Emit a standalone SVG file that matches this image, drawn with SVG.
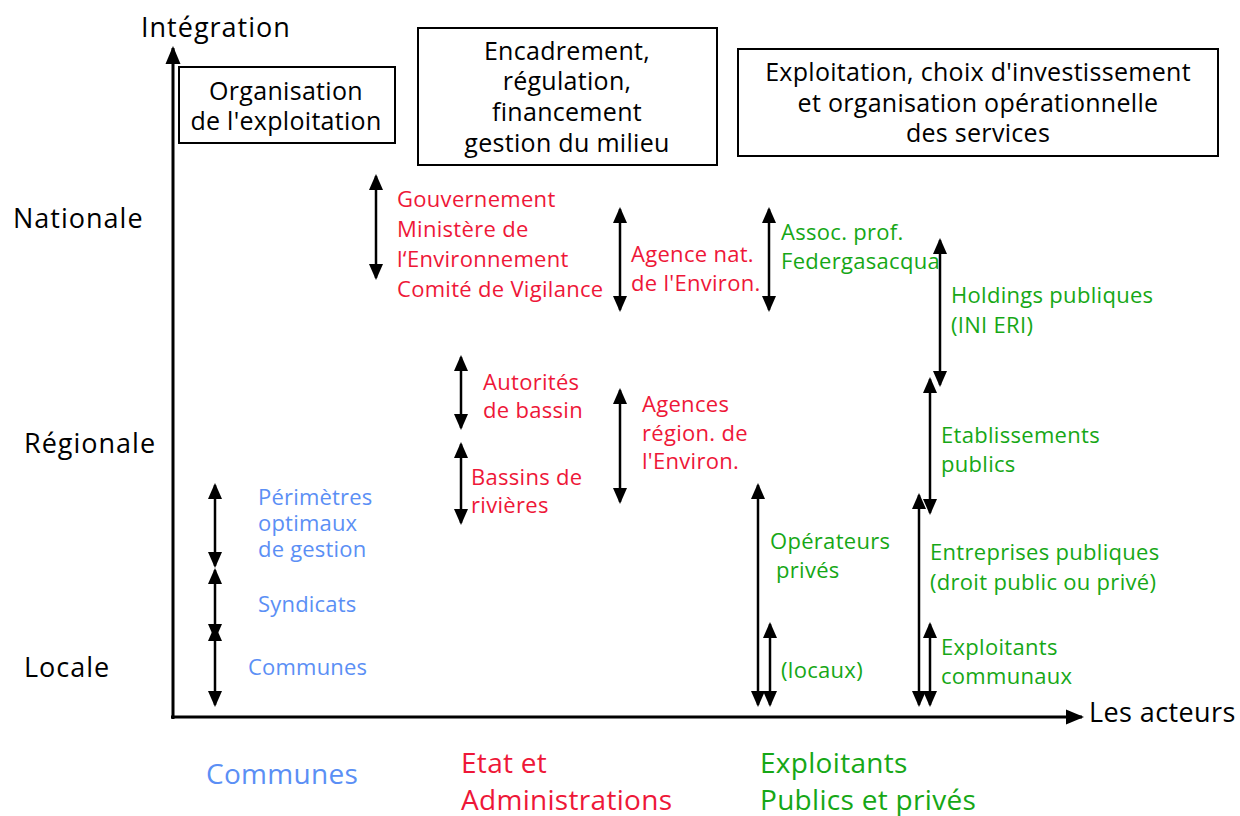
<svg xmlns="http://www.w3.org/2000/svg" width="1240" height="816" viewBox="0 0 1240 816">
  <defs>
    <marker id="head" markerUnits="userSpaceOnUse" markerWidth="18" markerHeight="16" viewBox="0 0 18 16" refX="14" refY="8" orient="auto-start-reverse">
      <path d="M0,1 L16,8 L0,15 z" fill="#000"/>
    </marker>
    <marker id="axhead" markerUnits="userSpaceOnUse" markerWidth="20" markerHeight="18" viewBox="0 0 20 18" refX="16" refY="9" orient="auto">
      <path d="M0,1.5 L18,9 L0,16.5 z" fill="#000"/>
    </marker>
  </defs>
  <style>
    text { font-family: "Open Sans", "Noto Sans", "DejaVu Sans", sans-serif; }
    .lvl { font-size: 27px; letter-spacing: 1px; fill: #000; }
    .box { fill: #fff; stroke: #000; stroke-width: 2; }
    .boxt { font-size: 25px; letter-spacing: 0.3px; fill: #000; text-anchor: middle; }
    .red { font-size: 22px; letter-spacing: 0.3px; fill: #ee1738; }
    .grn { font-size: 22px; letter-spacing: 0.3px; fill: #16a716; }
    .blu { font-size: 22px; letter-spacing: 0.2px; fill: #5b8ff5; }
    .cat { font-size: 28px; letter-spacing: 0.3px; }
    .arr { stroke: #000; stroke-width: 2.5; fill: none; marker-start: url(#head); marker-end: url(#head); }
    .ax { stroke: #000; stroke-width: 3; fill: none; marker-end: url(#axhead); }
  </style>

  <rect width="1240" height="816" fill="#fff"/>

  <!-- axes -->
  <g id="axes">
    <line class="ax" x1="173" y1="719" x2="173" y2="48"/>
    <line class="ax" x1="171" y1="717" x2="1082" y2="717"/>
    <text class="lvl" x="141" y="37">Intégration</text>
    <text class="lvl" x="1089" y="722" style="letter-spacing:0.4px">Les acteurs</text>
    <text class="lvl" x="13" y="228">Nationale</text>
    <text class="lvl" x="24" y="453">Régionale</text>
    <text class="lvl" x="24" y="677">Locale</text>
  </g>

  <!-- role boxes -->
  <g id="box-organisation">
    <rect class="box" x="179" y="67" width="216" height="76"/>
    <text class="boxt" x="286" y="100">Organisation</text>
    <text class="boxt" x="286" y="130">de l'exploitation</text>
  </g>
  <g id="box-encadrement">
    <rect class="box" x="418" y="28" width="299" height="137"/>
    <text class="boxt" x="567" y="60">Encadrement,</text>
    <text class="boxt" x="567" y="90">régulation,</text>
    <text class="boxt" x="567" y="121">financement</text>
    <text class="boxt" x="567" y="152">gestion du milieu</text>
  </g>
  <g id="box-exploitation">
    <rect class="box" x="738" y="49" width="480" height="107"/>
    <text class="boxt" x="978" y="81">Exploitation, choix d'investissement</text>
    <text class="boxt" x="978" y="112">et organisation opérationnelle</text>
    <text class="boxt" x="978" y="142">des services</text>
  </g>

  <!-- vertical range arrows -->
  <g id="connectors">
    <line class="arr" x1="376" y1="176" x2="376" y2="278"/>
    <line class="arr" x1="620" y1="209" x2="620" y2="310"/>
    <line class="arr" x1="769" y1="209" x2="769" y2="310"/>
    <line class="arr" x1="940" y1="240" x2="940" y2="385"/>
    <line class="arr" x1="930" y1="379" x2="930" y2="513"/>
    <line class="arr" x1="919" y1="495" x2="919" y2="705"/>
    <line class="arr" x1="930" y1="624" x2="930" y2="705"/>
    <line class="arr" x1="758" y1="485" x2="758" y2="705"/>
    <line class="arr" x1="770" y1="624" x2="770" y2="705"/>
    <line class="arr" x1="461" y1="357" x2="461" y2="428"/>
    <line class="arr" x1="461" y1="444" x2="461" y2="523"/>
    <line class="arr" x1="620" y1="390" x2="620" y2="502"/>
    <line class="arr" x1="215" y1="485" x2="215" y2="566"/>
    <line class="arr" x1="215" y1="570" x2="215" y2="638"/>
    <line class="arr" x1="215" y1="627" x2="215" y2="705"/>
  </g>

  <!-- state actors -->
  <g id="gouvernement">
    <text class="red" x="397" y="207">Gouvernement</text>
    <text class="red" x="397" y="237">Ministère de</text>
    <text class="red" x="397" y="267">l&#8216;Environnement</text>
    <text class="red" x="397" y="297">Comité de Vigilance</text>
  </g>
  <g id="agence-nat">
    <text class="red" x="631" y="262">Agence nat.</text>
    <text class="red" x="631" y="291">de l'Environ.</text>
  </g>
  <g id="autorites-bassin">
    <text class="red" x="483" y="390">Autorités</text>
    <text class="red" x="483" y="418">de bassin</text>
  </g>
  <g id="bassins-rivieres">
    <text class="red" x="471" y="485">Bassins de</text>
    <text class="red" x="471" y="513">rivières</text>
  </g>
  <g id="agences-region">
    <text class="red" x="642" y="412">Agences</text>
    <text class="red" x="642" y="441">région. de</text>
    <text class="red" x="642" y="469">l'Environ.</text>
  </g>

  <!-- operators -->
  <g id="assoc-prof">
    <text class="grn" x="781" y="240">Assoc. prof.</text>
    <text class="grn" x="781" y="269">Federgasacqua</text>
  </g>
  <g id="holdings">
    <text class="grn" x="951" y="303">Holdings publiques</text>
    <text class="grn" x="951" y="333">(INI ERI)</text>
  </g>
  <g id="etablissements">
    <text class="grn" x="941" y="443">Etablissements</text>
    <text class="grn" x="941" y="472">publics</text>
  </g>
  <g id="entreprises">
    <text class="grn" x="930" y="560">Entreprises publiques</text>
    <text class="grn" x="930" y="590">(droit public ou privé)</text>
  </g>
  <g id="exploitants-communaux">
    <text class="grn" x="941" y="655">Exploitants</text>
    <text class="grn" x="941" y="684">communaux</text>
  </g>
  <g id="operateurs-prives">
    <text class="grn" x="770" y="549">Opérateurs</text>
    <text class="grn" x="776" y="578">privés</text>
  </g>
  <g id="locaux">
    <text class="grn" x="781" y="678">(locaux)</text>
  </g>

  <!-- local bodies -->
  <g id="perimetres">
    <text class="blu" x="258" y="505">Périmètres</text>
    <text class="blu" x="258" y="531">optimaux</text>
    <text class="blu" x="258" y="557">de gestion</text>
  </g>
  <g id="syndicats">
    <text class="blu" x="258" y="612">Syndicats</text>
  </g>
  <g id="communes">
    <text class="blu" x="248" y="675">Communes</text>
  </g>

  <!-- actor categories -->
  <g id="categories">
    <text class="blu cat" x="206" y="784">Communes</text>
    <text class="red cat" x="461" y="773">Etat et</text>
    <text class="red cat" x="461" y="810">Administrations</text>
    <text class="grn cat" x="760" y="773">Exploitants</text>
    <text class="grn cat" x="760" y="810">Publics et privés</text>
  </g>
</svg>
